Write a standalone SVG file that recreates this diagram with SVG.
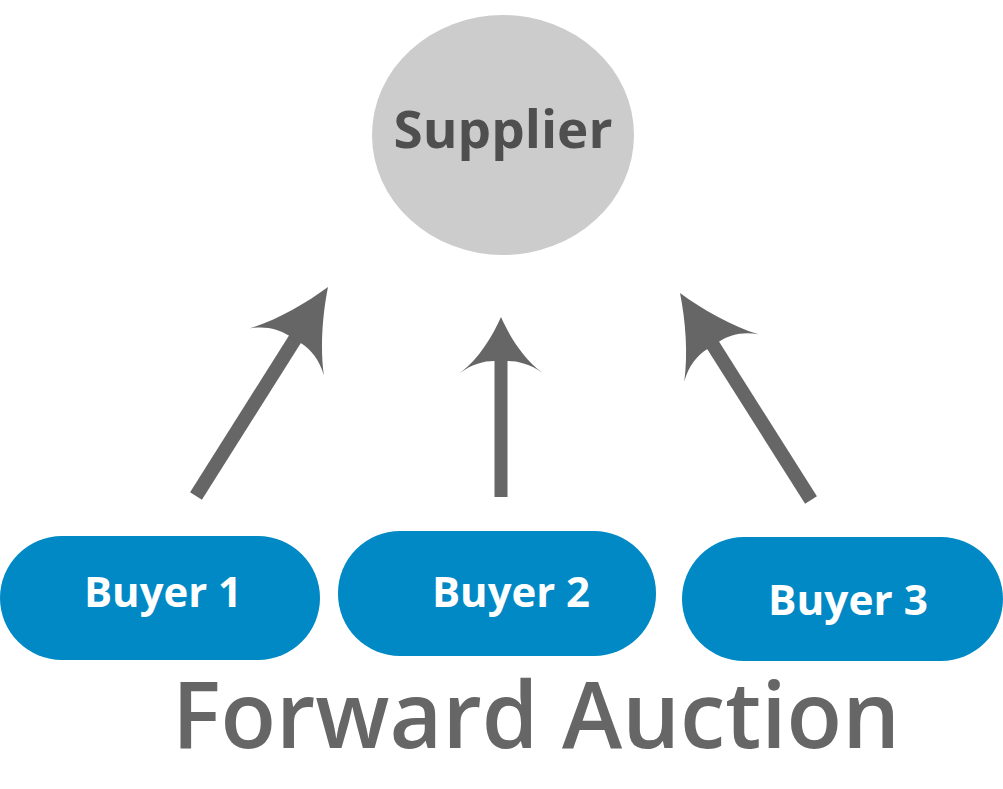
<svg xmlns="http://www.w3.org/2000/svg" width="1003" height="789" viewBox="0 0 1003 789">
<style>
.buyer{fill:#0189c6}
.btxt{fill:#ffffff;font-family:"Open Sans","Liberation Sans",sans-serif;font-weight:700;font-size:42px;text-anchor:middle}
.shaft{stroke:#666666;stroke-linecap:butt;fill:none}
.head{fill:#666666}
</style>
<defs>
<path id="headS" d="M0,0 C-10,26 -26,56 -44,77 C-32,66 -19,62 -7,62 L7,62 C19,62 32,66 44,77 C26,56 10,26 0,0 Z"/>
<path id="headM" d="M0,0 C-8,18 -22,42 -41,56 C-29,47 -17,44 -7,44 L7,44 C17,44 29,47 42,56 C22,42 8,18 0,0 Z"/>
</defs>
<rect width="1003" height="789" fill="#ffffff"/>
<g id="supplier">
<ellipse cx="503" cy="135" rx="131" ry="120" fill="#cccccc"/>
<text x="503" y="148" font-family="'Open Sans','Liberation Sans',sans-serif" font-weight="700" font-size="52" fill="#4f4f4f" text-anchor="middle" textLength="219" lengthAdjust="spacingAndGlyphs">Supplier</text>
</g>
<g id="connectors">
<line class="shaft" x1="196" y1="496" x2="297" y2="336" stroke-width="14"/>
<use href="#headS" class="head" transform="translate(328,287) rotate(32.4)"/>
<line class="shaft" x1="501" y1="497" x2="501" y2="358" stroke-width="13"/>
<use href="#headM" class="head" transform="translate(501,317)"/>
<line class="shaft" x1="811" y1="500" x2="711" y2="342" stroke-width="14"/>
<use href="#headS" class="head" transform="translate(680,293) rotate(-32.5)"/>
</g>
<g id="buyer1">
<rect class="buyer" x="0" y="536" width="320" height="124" rx="62"/>
<text class="btxt" x="163" y="607" textLength="158" lengthAdjust="spacingAndGlyphs">Buyer 1</text>
</g>
<g id="buyer2">
<rect class="buyer" x="338" y="531" width="318" height="125" rx="62"/>
<text class="btxt" x="511" y="607" textLength="158" lengthAdjust="spacingAndGlyphs">Buyer 2</text>
</g>
<g id="buyer3">
<rect class="buyer" x="682" y="537" width="321" height="124" rx="62"/>
<text class="btxt" x="848" y="615" textLength="160" lengthAdjust="spacingAndGlyphs">Buyer 3</text>
</g>
<g id="title">
<text x="172" y="748" font-family="'Open Sans','Liberation Sans',sans-serif" font-weight="600" font-size="92" fill="#666666" textLength="728" lengthAdjust="spacingAndGlyphs">Forward Auction</text>
</g>
</svg>
